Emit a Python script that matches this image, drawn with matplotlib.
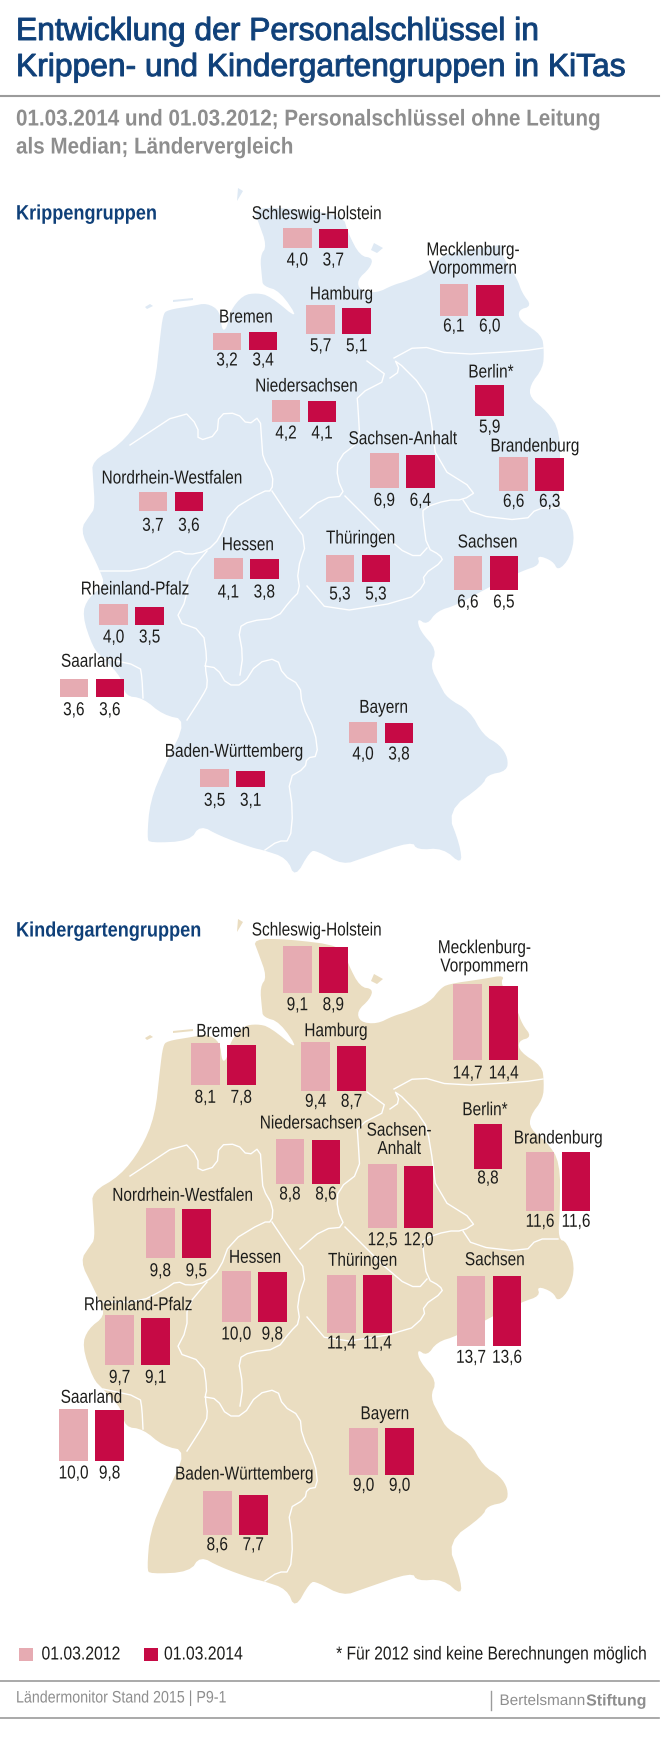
import numpy as np
import matplotlib
matplotlib.use("Agg")
import matplotlib.pyplot as plt
from matplotlib.patches import Polygon
from matplotlib.patheffects import AbstractPathEffect
from matplotlib.text import Text
from matplotlib.transforms import Affine2D, Bbox

plt.rcParams['font.family'] = ['Liberation Sans', 'DejaVu Sans']

states = ['Schleswig-Holstein', 'Mecklenburg-\nVorpommern', 'Hamburg', 'Bremen', 'Berlin*', 'Niedersachsen',
          'Sachsen-Anhalt', 'Brandenburg', 'Nordrhein-Westfalen', 'Hessen', 'Thüringen', 'Sachsen',
          'Rheinland-Pfalz', 'Saarland', 'Bayern', 'Baden-Württemberg']
kita_states = [s.replace('Sachsen-Anhalt', 'Sachsen-\nAnhalt') for s in states]

# Values as printed in the chart
krippe_2012 = [4.0, 6.1, 5.7, 3.2, np.nan, 4.2, 6.9, 6.6, 3.7, 4.1, 5.3, 6.6, 4.0, 3.6, 4.0, 3.5]
krippe_2014 = [3.7, 6.0, 5.1, 3.4, 5.9, 4.1, 6.4, 6.3, 3.6, 3.8, 5.3, 6.5, 3.5, 3.6, 3.8, 3.1]
kita_2012 = [9.1, 14.7, 9.4, 8.1, np.nan, 8.8, 12.5, 11.6, 9.8, 10.0, 11.4, 13.7, 9.7, 10.0, 9.0, 8.6]
kita_2014 = [8.9, 14.4, 8.7, 7.8, 8.8, 8.6, 12.0, 11.6, 9.5, 9.8, 11.4, 13.6, 9.1, 9.8, 9.0, 7.7]

# Where each state's group sits on the page (pixels)
krippe_bar_x = [283, 439.5, 306.4, 212.7, 439.4, 271.7, 370, 499.4, 138.6, 214, 325.6, 453.6, 99.3, 59.5, 348.7, 200.3]
krippe_base_y = [249.3, 316.7, 335, 350.7, 416.7, 422.7, 489.3, 491.7, 512, 580, 583.3, 590.7, 626, 698.3, 743.7, 788]
krippe_label_x = [316.6, 473, 341.5, 246, 491, 306.4, 403, 535, 172, 247.8, 360.7, 487.8, 135.2, 92, 383.8, 234]
krippe_label_y = [215.7, 261, 296, 319, 374, 388, 440.7, 448, 480, 546.7, 540, 544, 591, 663.3, 709.3, 753.3]
krippe_value_y = [262, 328, 347.7, 362, 429, 435, 502.3, 503.3, 527.3, 594, 596, 604, 639, 711.7, 756, 802.3]

kita_bar_x = [283, 453.3, 301.3, 191, 437.7, 275.7, 368.3, 525.7, 146, 222, 327, 456.7, 105.3, 59.3, 349.3, 203]
kita_base_y = [994, 1060.7, 1091.7, 1086, 1170, 1185, 1229, 1212.3, 1259.3, 1323.3, 1334.3, 1347.3, 1366, 1461.7, 1475.7, 1536]
kita_label_x = [316.6, 484.4, 336, 223.3, 485, 311, 399.3, 558.3, 182.7, 255, 362.7, 495, 138.3, 91.7, 385, 244.3]
kita_label_y = [932, 958.8, 1032.7, 1033.3, 1111.7, 1125, 1141.3, 1140, 1197.3, 1259.3, 1262.3, 1261.7, 1306.7, 1399.3, 1415.7, 1476]
kita_value_y = [1006.7, 1075, 1103.3, 1099.3, 1180, 1196, 1241.7, 1223.3, 1272.7, 1336, 1345, 1359.3, 1379.3, 1475, 1487.3, 1546.7]

# Germany, the upper one is the same shape moved up
outline = [(163, 1047), (167, 1042), (192, 1038), (207, 1035), (220, 1043), (222, 1063), (227, 1060), (230, 1043),
           (243, 1027), (257, 1025), (270, 1028), (300, 1053), (280, 1023), (263, 1018), (262, 1010), (260, 988),
           (267, 978), (258, 953), (253, 940), (287, 940), (343, 947), (348, 965), (360, 988), (373, 990),
           (370, 1000), (357, 1012), (360, 1023), (377, 1025), (393, 1017), (407, 1013), (430, 1003), (440, 990),
           (448, 985), (483, 980), (505, 976), (500, 985), (517, 1010), (522, 1025), (532, 1038), (518, 1042),
           (520, 1053), (542, 1067), (544, 1083), (543, 1100), (530, 1117), (530, 1130), (547, 1143), (560, 1163),
           (560, 1210), (558, 1240), (567, 1243), (575, 1267), (570, 1290), (558, 1303), (553, 1293), (537, 1287),
           (540, 1297), (522, 1303), (493, 1317), (457, 1337), (437, 1343), (427, 1357), (417, 1350), (420, 1363),
           (437, 1382), (430, 1398), (440, 1417), (447, 1430), (470, 1443), (483, 1467), (500, 1477), (508, 1490),
           (507, 1503), (487, 1507), (483, 1517), (447, 1543), (460, 1577), (462, 1597), (443, 1580), (417, 1582),
           (412, 1573), (363, 1590), (343, 1597), (317, 1583), (310, 1583), (295, 1610), (287, 1590), (263, 1582),
           (253, 1580), (220, 1568), (200, 1557), (190, 1573), (150, 1575), (147, 1570), (150, 1533), (165, 1497),
           (187, 1452), (163, 1447), (143, 1430), (125, 1428), (122, 1410), (103, 1390), (93, 1380), (82, 1347),
           (88, 1330), (105, 1317), (100, 1303), (93, 1288), (80, 1262), (90, 1247), (95, 1240), (93, 1210),
           (92, 1193), (120, 1177), (141, 1150), (155, 1117), (160, 1070)]
islands = [[(238, 920), (237, 933), (243, 923)], [(374, 975), (383, 980), (377, 985), (371, 982)],
           [(145, 1039), (150, 1036), (153, 1038), (147, 1041)], [(173, 1032), (193, 1030), (193, 1032), (173, 1034)]]
borders = [[(130, 1177), (183, 1142), (198, 1158), (198, 1173), (217, 1167), (219, 1146), (237, 1145), (248, 1157), (260, 1148), (262, 1177), (263, 1190), (273, 1207), (272, 1223), (263, 1223), (230, 1243), (220, 1270), (207, 1283), (188, 1287), (177, 1282), (165, 1290), (140, 1303), (100, 1303)],
           [(207, 1283), (187, 1307), (187, 1330), (175, 1353), (203, 1363), (207, 1390), (205, 1398), (208, 1417), (203, 1427), (187, 1452)],
           [(205, 1398), (217, 1400), (227, 1417), (243, 1417), (257, 1395), (277, 1390), (283, 1407), (300, 1417), (302, 1437), (315, 1463), (318, 1488), (307, 1490), (305, 1500), (288, 1510), (293, 1543), (290, 1573), (278, 1573), (265, 1582)],
           [(103, 1390), (140, 1398), (142, 1410), (143, 1430)],
           [(240, 1407), (243, 1387), (238, 1360), (250, 1353), (277, 1350), (290, 1333), (300, 1323), (297, 1303), (307, 1273), (290, 1250), (272, 1223)],
           [(300, 1250), (323, 1230), (345, 1228), (337, 1210), (338, 1190), (360, 1173), (358, 1140), (357, 1127), (390, 1110), (367, 1093)],
           [(307, 1318), (330, 1345), (407, 1333), (425, 1317), (423, 1307), (443, 1293), (440, 1287), (427, 1280), (423, 1250), (423, 1240), (447, 1232), (463, 1232), (477, 1223), (437, 1198), (430, 1143), (424, 1120), (394, 1090), (400, 1103), (390, 1110)],
           [(394, 1090), (418, 1077), (453, 1087), (523, 1083), (543, 1080)],
           [(463, 1232), (473, 1247), (525, 1253), (537, 1240), (558, 1240)],
           [(345, 1228), (397, 1280), (418, 1290), (427, 1280)]]

MAP_SHIFT = 731
BAR_W = 28.7
BAR_STEP = 36
UNIT = 5.15  # bar pixels per value unit

pale = '#E6ABB2'
dark = '#C60A45'
navy = '#0F4079'
grey = '#8E8E8E'
ink = '#1D1D1B'
rule = '#9B9B9B'

ALIGN = {'left': 0.0, 'center': 0.5, 'right': 1.0}


class Squeeze(AbstractPathEffect):
    """No condensed font is installed, so narrow the glyphs of a normal one."""

    def __init__(self, sx, ha, stroke=0.0):
        super().__init__()
        self.sx = sx
        self.ha = ha
        self.stroke = stroke

    def draw_path(self, renderer, gc, tpath, affine, rgbFace=None):
        shift = ALIGN[self.ha] * (1 - self.sx) * tpath.get_extents().x1
        narrow = Affine2D().scale(self.sx, 1).translate(shift, 0)
        gc.set_linewidth(self.stroke)
        gc.set_foreground(rgbFace)
        renderer.draw_path(gc, tpath, narrow + affine, rgbFace)


class CondensedText(Text):
    def __init__(self, x, y, s, sx=0.85, ha='left', stroke=0.0, **kw):
        super().__init__(x, y, s, ha=ha, va='center', **kw)
        self.sx = sx
        self.set_path_effects([Squeeze(sx, ha, stroke)])

    def get_window_extent(self, renderer=None, dpi=None):
        box = super().get_window_extent(renderer, dpi)
        w = box.width * self.sx
        x0 = box.x0 + ALIGN[self.get_ha()] * (box.width - w)
        return Bbox.from_bounds(x0, box.y0, w, box.height)


def put(ax, x, y, s, **kw):
    return ax.add_artist(CondensedText(x, y, s, **kw))


def smooth(points, closed=False, rounds=2):
    # corner cutting, the traced points are too coarse to look like a coast
    pts = np.array(points, dtype=float)
    for _ in range(rounds):
        nxt = np.roll(pts, -1, axis=0) if closed else pts[1:]
        cur = pts if closed else pts[:-1]
        cut = np.empty((len(cur) * 2, 2))
        cut[0::2] = 0.75 * cur + 0.25 * nxt
        cut[1::2] = 0.25 * cur + 0.75 * nxt
        pts = cut if closed else np.vstack([pts[0], cut, pts[-1]])
    return pts


def fmt(v):
    return f'{v:.1f}'.replace('.', ',')


def draw_map(ax, dy, color):
    shape = smooth(outline, closed=True) - [0, dy]
    ax.add_patch(Polygon(shape, closed=True, fc=color, ec='none', zorder=1))
    for isl in islands:
        ax.add_patch(Polygon(np.array(isl) - [0, dy], closed=True, fc=color, ec='none', zorder=1))
    for line in borders:
        pts = smooth(line, rounds=1) - [0, dy]
        ax.plot(pts[:, 0], pts[:, 1], color='white', lw=1.0, zorder=2, solid_joinstyle='round')


def draw_groups(ax, names, vals_old, vals_new, bar_x, base_y, label_x, label_y, value_y):
    x = np.array(bar_x)
    base = np.array(base_y)
    old = np.array(vals_old)
    new = np.array(vals_new)
    keep = ~np.isnan(old)
    ax.bar(x[keep], -old[keep] * UNIT, bottom=base[keep], width=BAR_W, align='edge', color=pale, zorder=3)
    ax.bar(x + BAR_STEP, -new * UNIT, bottom=base, width=BAR_W, align='edge', color=dark, zorder=3)
    style = dict(ha='center', sx=0.82, fontsize=13.5, color=ink, zorder=4)
    for i, name in enumerate(names):
        put(ax, label_x[i], label_y[i], name, linespacing=1.1, **style)
        if keep[i]:
            put(ax, x[i] + BAR_W / 2, value_y[i], fmt(old[i]), **style)
        put(ax, x[i] + BAR_STEP + BAR_W / 2, value_y[i], fmt(new[i]), **style)


def main():
    fig = plt.figure(figsize=(6.7, 17.49), dpi=100)
    ax = fig.add_axes([0, 0, 1, 1])
    ax.set_xlim(0, 670)
    ax.set_ylim(1749, 0)
    ax.axis('off')

    put(ax, 16, 33, 'Entwicklung der Personalschlüssel in', sx=0.995, stroke=0.7, fontsize=23, color=navy)
    put(ax, 16, 69, 'Krippen- und Kindergartengruppen in KiTas', sx=0.995, stroke=0.7, fontsize=23, color=navy)
    ax.plot([0, 659], [97, 97], color=rule, lw=1.5)
    put(ax, 16, 120, '01.03.2014 und 01.03.2012; Personalschlüssel ohne Leitung', sx=0.9, fontsize=16.5, color=grey, weight='bold')
    put(ax, 16, 148, 'als Median; Ländervergleich', sx=0.9, fontsize=16.5, color=grey, weight='bold')

    put(ax, 16, 215, 'Krippengruppen', sx=0.87, fontsize=15, color=navy, weight='bold')
    put(ax, 16, 932, 'Kindergartengruppen', sx=0.87, fontsize=15, color=navy, weight='bold')

    draw_map(ax, MAP_SHIFT, '#DEE9F4')
    draw_map(ax, 0, '#EADDC1')
    draw_groups(ax, states, krippe_2012, krippe_2014, krippe_bar_x, krippe_base_y, krippe_label_x, krippe_label_y, krippe_value_y)
    draw_groups(ax, kita_states, kita_2012, kita_2014, kita_bar_x, kita_base_y, kita_label_x, kita_label_y, kita_value_y)

    # Legend and footnote
    ax.bar([19], [13], bottom=1649, width=14, align='edge', color=pale)
    ax.bar([144], [13], bottom=1649, width=14, align='edge', color=dark)
    put(ax, 41.5, 1656, '01.03.2012', sx=0.84, fontsize=13.5, color=ink)
    put(ax, 164, 1656, '01.03.2014', sx=0.84, fontsize=13.5, color=ink)
    put(ax, 647, 1656, '* Für 2012 sind keine Berechnungen möglich', sx=0.83, ha='right', fontsize=13.5, color=ink)

    # Footer
    ax.plot([0, 659], [1682, 1682], color=rule, lw=1.2)
    ax.plot([0, 659], [1719, 1719], color=rule, lw=1.2)
    put(ax, 16, 1699, 'Ländermonitor Stand 2015 | P9-1', sx=0.855, fontsize=12, color=grey)
    ax.plot([491, 491], [1692, 1711], color=rule, lw=1)
    put(ax, 585, 1702, 'Bertelsmann', sx=1.0, ha='right', fontsize=11, color=grey)
    put(ax, 647, 1702, 'Stiftung', sx=1.0, ha='right', fontsize=11.5, color=grey, weight='bold')

    fig.savefig('out.png', dpi=100)
    plt.close(fig)


if __name__ == "__main__":
    main()
